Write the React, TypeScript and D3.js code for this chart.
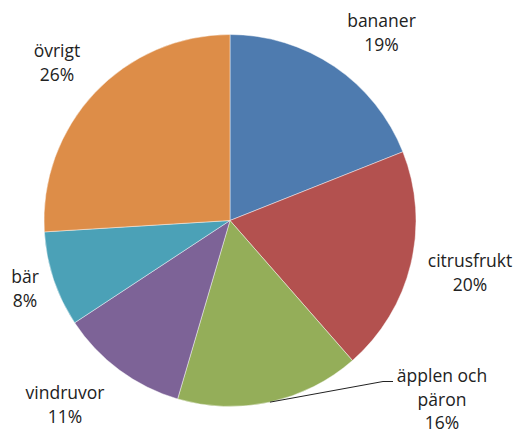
import React from "react";
import * as d3 from "d3";

const categories = ["bananer", "citrusfrukt", "äpplen och päron", "vindruvor", "bär", "övrigt"];
const values = [19.0, 19.6, 16.0, 11.2, 8.3, 26.0];
const colors = ["#4E7BAF", "#B3514F", "#94AE59", "#7D6397", "#4BA1B7", "#DD8D48"];
// label text lines per category (line break positions)
const labelLines = [["bananer"], ["citrusfrukt"], ["äpplen och", "päron"], ["vindruvor"], ["bär"], ["övrigt"]];
// label placement: offset of first baseline from pie centre
const labelOffsets: [number, number][] = [
  [151.5, -193.5],
  [240, 46.5],
  [212, 161.5],
  [-165, 178.5],
  [-205, 62.5],
  [-173, -163.5],
];

const W = 513;
const H = 430;
const cx = 230;
const cy = 220.5;
const R = 186;
const lineH = 23.5;

export default function App() {
  const total = d3.sum(values);
  const pie = d3.pie<number>().sort(null).value((d) => d)(values);
  const arc = d3.arc<d3.PieArcDatum<number>>().innerRadius(0).outerRadius(R);

  return (
    <svg width={W} height={H} style={{ position: "absolute", left: 0, top: 0, background: "#fff" }}>
      <g transform={`translate(${cx},${cy})`}>
        {pie.map((p, i) => (
          <path key={i} d={arc(p) || ""} fill={colors[i]} stroke="#ffffff" strokeOpacity={0.55} strokeWidth={0.8} />
        ))}
        {pie.map((p, i) => {
          const [ox, oy] = labelOffsets[i];
          const pct = `${Math.round((values[i] / total) * 100)}%`;
          const lines = [...labelLines[i], pct];
          return (
            <text
              key={"t" + i}
              x={ox}
              y={oy}
              textAnchor="middle"
              fontFamily="'Open Sans', sans-serif"
              fontSize={17.5}
              fill="#222"
            >
              {lines.map((l, j) => (
                <tspan key={j} x={ox} y={oy + j * lineH}>
                  {l}
                </tspan>
              ))}
            </text>
          );
        })}
        {(() => {
          const p = pie[2];
          const mid = (p.startAngle + p.endAngle) / 2;
          const sx = R * Math.sin(mid);
          const sy = -R * Math.cos(mid);
          const [ox, oy] = labelOffsets[2];
          const ex = ox - 59;
          const ey = oy - 6.5 + 6;
          return (
            <polyline
              points={`${sx},${sy} ${ex},${ey} ${ex + 10},${ey}`}
              fill="none"
              stroke="#222"
              strokeWidth={1}
            />
          );
        })()}
      </g>
    </svg>
  );
}
